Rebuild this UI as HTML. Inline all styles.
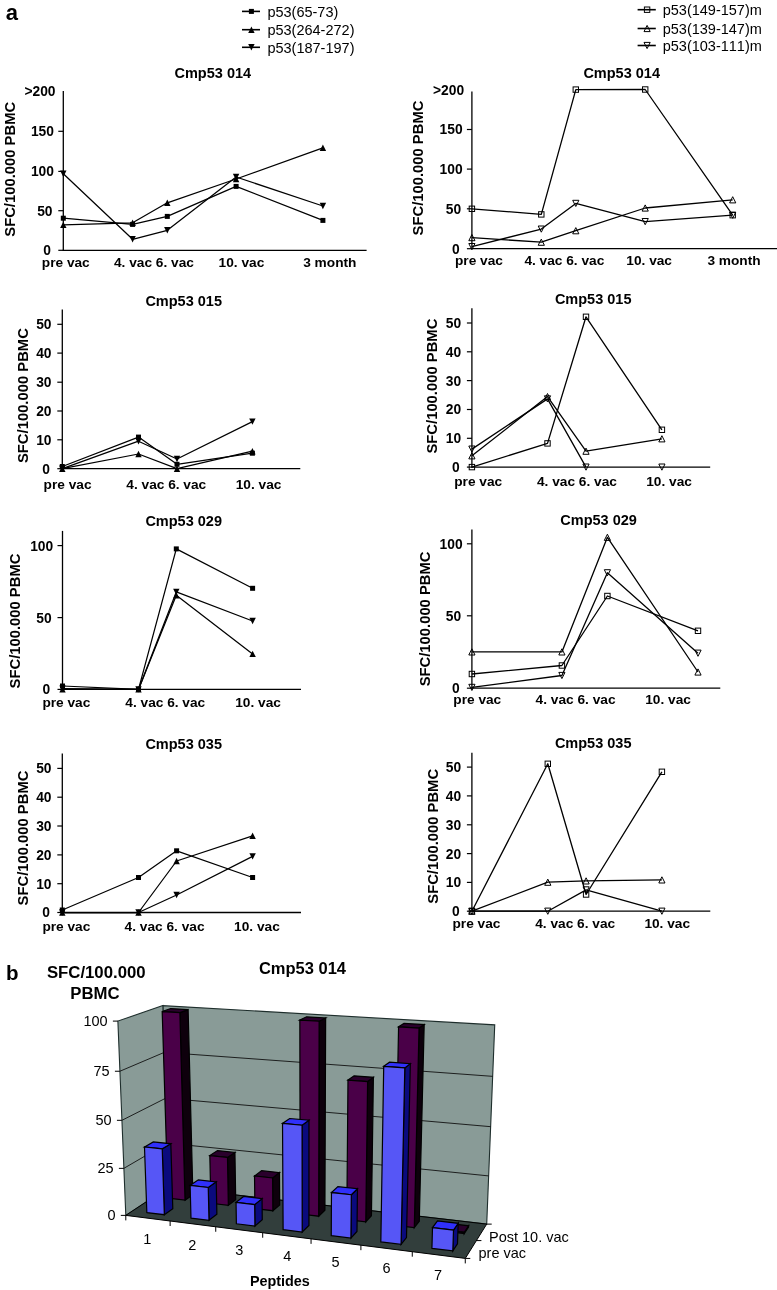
<!DOCTYPE html>
<html><head><meta charset="utf-8"><style>
html,body{margin:0;padding:0;background:#fff;}
svg{display:block;font-family:"Liberation Sans",sans-serif;font-kerning:none;will-change:transform;}
text{font-kerning:none;}
</style></head><body>
<svg width="777" height="1290" viewBox="0 0 777 1290">
<rect width="777" height="1290" fill="#fff"/>
<text x="5.70" y="20.30" font-size="22" font-weight="bold" text-anchor="start" fill="#000">a</text>
<line x1="242.00" y1="11.40" x2="260.00" y2="11.40" stroke="#000" stroke-width="1.6"/>
<rect x="248.90" y="8.90" width="5.0" height="5.0" fill="#000"/>
<text x="267.40" y="16.60" font-size="14.5" text-anchor="start" fill="#000">p53(65-73)</text>
<line x1="242.00" y1="29.70" x2="260.00" y2="29.70" stroke="#000" stroke-width="1.6"/>
<polygon points="251.40,26.50 254.60,32.90 248.20,32.90" fill="#000" stroke="none" stroke-width="0.8" stroke-linejoin="miter"/>
<text x="267.40" y="34.90" font-size="14.5" text-anchor="start" fill="#000">p53(264-272)</text>
<line x1="242.00" y1="47.30" x2="260.00" y2="47.30" stroke="#000" stroke-width="1.6"/>
<polygon points="251.40,50.50 254.60,44.10 248.20,44.10" fill="#000" stroke="none" stroke-width="0.8" stroke-linejoin="miter"/>
<text x="267.40" y="52.50" font-size="14.5" text-anchor="start" fill="#000">p53(187-197)</text>
<line x1="637.60" y1="9.70" x2="655.80" y2="9.70" stroke="#000" stroke-width="1.6"/>
<rect x="644.40" y="7.00" width="5.4" height="5.4" fill="none" stroke="#000" stroke-width="1"/>
<text x="662.70" y="14.90" font-size="14.5" text-anchor="start" fill="#000">p53(149-157)m</text>
<line x1="637.60" y1="28.50" x2="655.80" y2="28.50" stroke="#000" stroke-width="1.6"/>
<polygon points="647.10,25.40 650.20,31.60 644.00,31.60" fill="none" stroke="#000" stroke-width="1" stroke-linejoin="miter"/>
<text x="662.70" y="33.70" font-size="14.5" text-anchor="start" fill="#000">p53(139-147)m</text>
<line x1="637.60" y1="45.50" x2="655.80" y2="45.50" stroke="#000" stroke-width="1.6"/>
<polygon points="647.10,48.60 650.20,42.40 644.00,42.40" fill="none" stroke="#000" stroke-width="1" stroke-linejoin="miter"/>
<text x="662.70" y="50.70" font-size="14.5" text-anchor="start" fill="#000">p53(103-111)m</text>
<line x1="63.30" y1="91.00" x2="63.30" y2="250.90" stroke="#000" stroke-width="1.3"/>
<line x1="62.70" y1="250.30" x2="366.60" y2="250.30" stroke="#000" stroke-width="1.3"/>
<line x1="58.30" y1="250.30" x2="63.30" y2="250.30" stroke="#000" stroke-width="1.2"/>
<text x="51.06" y="255.20" font-size="13.8" font-weight="bold" text-anchor="end" fill="#000">0</text>
<line x1="58.30" y1="210.70" x2="63.30" y2="210.70" stroke="#000" stroke-width="1.2"/>
<text x="52.52" y="215.60" font-size="13.8" font-weight="bold" text-anchor="end" fill="#000">50</text>
<line x1="58.30" y1="171.40" x2="63.30" y2="171.40" stroke="#000" stroke-width="1.2"/>
<text x="53.97" y="176.30" font-size="13.8" font-weight="bold" text-anchor="end" fill="#000">100</text>
<line x1="58.30" y1="131.30" x2="63.30" y2="131.30" stroke="#000" stroke-width="1.2"/>
<text x="53.97" y="136.20" font-size="13.8" font-weight="bold" text-anchor="end" fill="#000">150</text>
<text x="55.50" y="96.40" font-size="13.8" font-weight="bold" text-anchor="end" fill="#000">&gt;200</text>
<text x="14.60" y="169.30" font-size="14.8" font-weight="bold" text-anchor="middle" transform="rotate(-90 14.6 169.3)" fill="#000">SFC/100.000 PBMC</text>
<text x="174.50" y="77.60" font-size="14.5" font-weight="bold" text-anchor="start" fill="#000">Cmp53 014</text>
<text x="41.80" y="266.90" font-size="13.7" font-weight="bold" text-anchor="start" fill="#000">pre vac</text>
<text x="114.00" y="266.90" font-size="13.7" font-weight="bold" text-anchor="start" fill="#000">4. vac 6. vac</text>
<text x="218.60" y="266.90" font-size="13.7" font-weight="bold" text-anchor="start" fill="#000">10. vac</text>
<text x="303.20" y="266.90" font-size="13.7" font-weight="bold" text-anchor="start" fill="#000">3 month</text>
<polyline points="63.30,218.20 132.60,224.40 167.30,216.40 236.10,186.40 322.90,220.40" fill="none" stroke="#000" stroke-width="1.25" stroke-linejoin="round"/>
<polyline points="63.30,224.90 132.60,222.80 167.30,202.80 236.10,179.00 322.90,147.80" fill="none" stroke="#000" stroke-width="1.25" stroke-linejoin="round"/>
<polyline points="63.30,173.70 132.60,239.30 167.30,230.30 236.10,177.00 322.90,206.00" fill="none" stroke="#000" stroke-width="1.25" stroke-linejoin="round"/>
<rect x="60.80" y="215.70" width="5.0" height="5.0" fill="#000"/>
<rect x="130.10" y="221.90" width="5.0" height="5.0" fill="#000"/>
<rect x="164.80" y="213.90" width="5.0" height="5.0" fill="#000"/>
<rect x="233.60" y="183.90" width="5.0" height="5.0" fill="#000"/>
<rect x="320.40" y="217.90" width="5.0" height="5.0" fill="#000"/>
<polygon points="63.30,221.70 66.50,228.10 60.10,228.10" fill="#000" stroke="none" stroke-width="0.8" stroke-linejoin="miter"/>
<polygon points="132.60,219.60 135.80,226.00 129.40,226.00" fill="#000" stroke="none" stroke-width="0.8" stroke-linejoin="miter"/>
<polygon points="167.30,199.60 170.50,206.00 164.10,206.00" fill="#000" stroke="none" stroke-width="0.8" stroke-linejoin="miter"/>
<polygon points="236.10,175.80 239.30,182.20 232.90,182.20" fill="#000" stroke="none" stroke-width="0.8" stroke-linejoin="miter"/>
<polygon points="322.90,144.60 326.10,151.00 319.70,151.00" fill="#000" stroke="none" stroke-width="0.8" stroke-linejoin="miter"/>
<polygon points="63.30,176.90 66.50,170.50 60.10,170.50" fill="#000" stroke="none" stroke-width="0.8" stroke-linejoin="miter"/>
<polygon points="132.60,242.50 135.80,236.10 129.40,236.10" fill="#000" stroke="none" stroke-width="0.8" stroke-linejoin="miter"/>
<polygon points="167.30,233.50 170.50,227.10 164.10,227.10" fill="#000" stroke="none" stroke-width="0.8" stroke-linejoin="miter"/>
<polygon points="236.10,180.20 239.30,173.80 232.90,173.80" fill="#000" stroke="none" stroke-width="0.8" stroke-linejoin="miter"/>
<polygon points="322.90,209.20 326.10,202.80 319.70,202.80" fill="#000" stroke="none" stroke-width="0.8" stroke-linejoin="miter"/>
<line x1="471.90" y1="91.40" x2="471.90" y2="249.30" stroke="#000" stroke-width="1.3"/>
<line x1="471.30" y1="248.70" x2="777.00" y2="248.70" stroke="#000" stroke-width="1.3"/>
<line x1="466.90" y1="248.70" x2="471.90" y2="248.70" stroke="#000" stroke-width="1.2"/>
<text x="459.66" y="253.60" font-size="13.8" font-weight="bold" text-anchor="end" fill="#000">0</text>
<line x1="466.90" y1="208.80" x2="471.90" y2="208.80" stroke="#000" stroke-width="1.2"/>
<text x="461.12" y="213.70" font-size="13.8" font-weight="bold" text-anchor="end" fill="#000">50</text>
<line x1="466.90" y1="169.10" x2="471.90" y2="169.10" stroke="#000" stroke-width="1.2"/>
<text x="462.57" y="174.00" font-size="13.8" font-weight="bold" text-anchor="end" fill="#000">100</text>
<line x1="466.90" y1="129.50" x2="471.90" y2="129.50" stroke="#000" stroke-width="1.2"/>
<text x="462.57" y="134.40" font-size="13.8" font-weight="bold" text-anchor="end" fill="#000">150</text>
<text x="464.10" y="95.00" font-size="13.8" font-weight="bold" text-anchor="end" fill="#000">&gt;200</text>
<text x="423.00" y="168.00" font-size="14.8" font-weight="bold" text-anchor="middle" transform="rotate(-90 423 168)" fill="#000">SFC/100.000 PBMC</text>
<text x="583.40" y="77.60" font-size="14.5" font-weight="bold" text-anchor="start" fill="#000">Cmp53 014</text>
<text x="455.00" y="264.50" font-size="13.7" font-weight="bold" text-anchor="start" fill="#000">pre vac</text>
<text x="524.40" y="264.50" font-size="13.7" font-weight="bold" text-anchor="start" fill="#000">4. vac 6. vac</text>
<text x="626.30" y="264.50" font-size="13.7" font-weight="bold" text-anchor="start" fill="#000">10. vac</text>
<text x="707.40" y="264.50" font-size="13.7" font-weight="bold" text-anchor="start" fill="#000">3 month</text>
<polyline points="471.90,208.80 541.30,214.40 575.80,89.60 645.20,89.50 732.70,215.20" fill="none" stroke="#000" stroke-width="1.3" stroke-linejoin="round"/>
<polyline points="471.90,237.60 541.30,242.20 575.80,230.70 645.20,208.00 732.70,199.80" fill="none" stroke="#000" stroke-width="1.3" stroke-linejoin="round"/>
<polyline points="471.90,246.60 541.30,229.10 575.80,203.40 645.20,221.60 732.70,215.20" fill="none" stroke="#000" stroke-width="1.3" stroke-linejoin="round"/>
<rect x="469.20" y="206.10" width="5.4" height="5.4" fill="none" stroke="#000" stroke-width="1"/>
<rect x="538.60" y="211.70" width="5.4" height="5.4" fill="none" stroke="#000" stroke-width="1"/>
<rect x="573.10" y="86.90" width="5.4" height="5.4" fill="none" stroke="#000" stroke-width="1"/>
<rect x="642.50" y="86.80" width="5.4" height="5.4" fill="none" stroke="#000" stroke-width="1"/>
<rect x="730.00" y="212.50" width="5.4" height="5.4" fill="none" stroke="#000" stroke-width="1"/>
<polygon points="471.90,234.50 475.00,240.70 468.80,240.70" fill="none" stroke="#000" stroke-width="1" stroke-linejoin="miter"/>
<polygon points="541.30,239.10 544.40,245.30 538.20,245.30" fill="none" stroke="#000" stroke-width="1" stroke-linejoin="miter"/>
<polygon points="575.80,227.60 578.90,233.80 572.70,233.80" fill="none" stroke="#000" stroke-width="1" stroke-linejoin="miter"/>
<polygon points="645.20,204.90 648.30,211.10 642.10,211.10" fill="none" stroke="#000" stroke-width="1" stroke-linejoin="miter"/>
<polygon points="732.70,196.70 735.80,202.90 729.60,202.90" fill="none" stroke="#000" stroke-width="1" stroke-linejoin="miter"/>
<polygon points="471.90,249.70 475.00,243.50 468.80,243.50" fill="none" stroke="#000" stroke-width="1" stroke-linejoin="miter"/>
<polygon points="541.30,232.20 544.40,226.00 538.20,226.00" fill="none" stroke="#000" stroke-width="1" stroke-linejoin="miter"/>
<polygon points="575.80,206.50 578.90,200.30 572.70,200.30" fill="none" stroke="#000" stroke-width="1" stroke-linejoin="miter"/>
<polygon points="645.20,224.70 648.30,218.50 642.10,218.50" fill="none" stroke="#000" stroke-width="1" stroke-linejoin="miter"/>
<polygon points="732.70,218.30 735.80,212.10 729.60,212.10" fill="none" stroke="#000" stroke-width="1" stroke-linejoin="miter"/>
<line x1="62.30" y1="309.60" x2="62.30" y2="469.30" stroke="#000" stroke-width="1.3"/>
<line x1="61.70" y1="468.70" x2="300.30" y2="468.70" stroke="#000" stroke-width="1.3"/>
<line x1="57.30" y1="468.70" x2="62.30" y2="468.70" stroke="#000" stroke-width="1.2"/>
<text x="50.06" y="473.60" font-size="13.8" font-weight="bold" text-anchor="end" fill="#000">0</text>
<line x1="57.30" y1="439.80" x2="62.30" y2="439.80" stroke="#000" stroke-width="1.2"/>
<text x="51.52" y="444.70" font-size="13.8" font-weight="bold" text-anchor="end" fill="#000">10</text>
<line x1="57.30" y1="411.00" x2="62.30" y2="411.00" stroke="#000" stroke-width="1.2"/>
<text x="51.52" y="415.90" font-size="13.8" font-weight="bold" text-anchor="end" fill="#000">20</text>
<line x1="57.30" y1="382.20" x2="62.30" y2="382.20" stroke="#000" stroke-width="1.2"/>
<text x="51.52" y="387.10" font-size="13.8" font-weight="bold" text-anchor="end" fill="#000">30</text>
<line x1="57.30" y1="353.10" x2="62.30" y2="353.10" stroke="#000" stroke-width="1.2"/>
<text x="51.52" y="358.00" font-size="13.8" font-weight="bold" text-anchor="end" fill="#000">40</text>
<line x1="57.30" y1="324.30" x2="62.30" y2="324.30" stroke="#000" stroke-width="1.2"/>
<text x="51.52" y="329.20" font-size="13.8" font-weight="bold" text-anchor="end" fill="#000">50</text>
<text x="28.00" y="395.60" font-size="14.8" font-weight="bold" text-anchor="middle" transform="rotate(-90 28 395.6)" fill="#000">SFC/100.000 PBMC</text>
<text x="145.40" y="305.80" font-size="14.5" font-weight="bold" text-anchor="start" fill="#000">Cmp53 015</text>
<text x="43.60" y="489.30" font-size="13.7" font-weight="bold" text-anchor="start" fill="#000">pre vac</text>
<text x="126.30" y="489.30" font-size="13.7" font-weight="bold" text-anchor="start" fill="#000">4. vac 6. vac</text>
<text x="235.70" y="489.30" font-size="13.7" font-weight="bold" text-anchor="start" fill="#000">10. vac</text>
<polyline points="62.30,466.50 138.50,437.10 177.00,464.30 252.40,453.20" fill="none" stroke="#000" stroke-width="1.25" stroke-linejoin="round"/>
<polyline points="62.30,468.70 138.50,454.00 177.00,468.70 252.40,451.20" fill="none" stroke="#000" stroke-width="1.25" stroke-linejoin="round"/>
<polyline points="62.30,468.70 138.50,441.20 177.00,459.00 252.40,421.60" fill="none" stroke="#000" stroke-width="1.25" stroke-linejoin="round"/>
<rect x="59.80" y="464.00" width="5.0" height="5.0" fill="#000"/>
<rect x="136.00" y="434.60" width="5.0" height="5.0" fill="#000"/>
<rect x="174.50" y="461.80" width="5.0" height="5.0" fill="#000"/>
<rect x="249.90" y="450.70" width="5.0" height="5.0" fill="#000"/>
<polygon points="62.30,465.50 65.50,471.90 59.10,471.90" fill="#000" stroke="none" stroke-width="0.8" stroke-linejoin="miter"/>
<polygon points="138.50,450.80 141.70,457.20 135.30,457.20" fill="#000" stroke="none" stroke-width="0.8" stroke-linejoin="miter"/>
<polygon points="177.00,465.50 180.20,471.90 173.80,471.90" fill="#000" stroke="none" stroke-width="0.8" stroke-linejoin="miter"/>
<polygon points="252.40,448.00 255.60,454.40 249.20,454.40" fill="#000" stroke="none" stroke-width="0.8" stroke-linejoin="miter"/>
<polygon points="62.30,471.90 65.50,465.50 59.10,465.50" fill="#000" stroke="none" stroke-width="0.8" stroke-linejoin="miter"/>
<polygon points="138.50,444.40 141.70,438.00 135.30,438.00" fill="#000" stroke="none" stroke-width="0.8" stroke-linejoin="miter"/>
<polygon points="177.00,462.20 180.20,455.80 173.80,455.80" fill="#000" stroke="none" stroke-width="0.8" stroke-linejoin="miter"/>
<polygon points="252.40,424.80 255.60,418.40 249.20,418.40" fill="#000" stroke="none" stroke-width="0.8" stroke-linejoin="miter"/>
<line x1="471.90" y1="308.30" x2="471.90" y2="467.70" stroke="#000" stroke-width="1.3"/>
<line x1="471.30" y1="467.10" x2="710.20" y2="467.10" stroke="#000" stroke-width="1.3"/>
<line x1="466.90" y1="467.10" x2="471.90" y2="467.10" stroke="#000" stroke-width="1.2"/>
<text x="459.66" y="472.00" font-size="13.8" font-weight="bold" text-anchor="end" fill="#000">0</text>
<line x1="466.90" y1="438.30" x2="471.90" y2="438.30" stroke="#000" stroke-width="1.2"/>
<text x="461.12" y="443.20" font-size="13.8" font-weight="bold" text-anchor="end" fill="#000">10</text>
<line x1="466.90" y1="409.50" x2="471.90" y2="409.50" stroke="#000" stroke-width="1.2"/>
<text x="461.12" y="414.40" font-size="13.8" font-weight="bold" text-anchor="end" fill="#000">20</text>
<line x1="466.90" y1="380.60" x2="471.90" y2="380.60" stroke="#000" stroke-width="1.2"/>
<text x="461.12" y="385.50" font-size="13.8" font-weight="bold" text-anchor="end" fill="#000">30</text>
<line x1="466.90" y1="351.80" x2="471.90" y2="351.80" stroke="#000" stroke-width="1.2"/>
<text x="461.12" y="356.70" font-size="13.8" font-weight="bold" text-anchor="end" fill="#000">40</text>
<line x1="466.90" y1="323.00" x2="471.90" y2="323.00" stroke="#000" stroke-width="1.2"/>
<text x="461.12" y="327.90" font-size="13.8" font-weight="bold" text-anchor="end" fill="#000">50</text>
<text x="437.30" y="386.10" font-size="14.8" font-weight="bold" text-anchor="middle" transform="rotate(-90 437.3 386.1)" fill="#000">SFC/100.000 PBMC</text>
<text x="554.90" y="304.00" font-size="14.5" font-weight="bold" text-anchor="start" fill="#000">Cmp53 015</text>
<text x="454.20" y="485.50" font-size="13.7" font-weight="bold" text-anchor="start" fill="#000">pre vac</text>
<text x="537.00" y="485.50" font-size="13.7" font-weight="bold" text-anchor="start" fill="#000">4. vac 6. vac</text>
<text x="646.20" y="485.50" font-size="13.7" font-weight="bold" text-anchor="start" fill="#000">10. vac</text>
<polyline points="471.90,467.10 547.50,443.40 586.00,316.80 661.90,429.80" fill="none" stroke="#000" stroke-width="1.3" stroke-linejoin="round"/>
<polyline points="471.90,455.80 547.50,396.60 586.00,451.20 661.90,438.80" fill="none" stroke="#000" stroke-width="1.3" stroke-linejoin="round"/>
<polyline points="471.90,449.10 547.50,398.90 586.00,467.10" fill="none" stroke="#000" stroke-width="1.3" stroke-linejoin="round"/>
<polyline points="661.90,467.10" fill="none" stroke="#000" stroke-width="1.3" stroke-linejoin="round"/>
<rect x="469.20" y="464.40" width="5.4" height="5.4" fill="none" stroke="#000" stroke-width="1"/>
<rect x="544.80" y="440.70" width="5.4" height="5.4" fill="none" stroke="#000" stroke-width="1"/>
<rect x="583.30" y="314.10" width="5.4" height="5.4" fill="none" stroke="#000" stroke-width="1"/>
<rect x="659.20" y="427.10" width="5.4" height="5.4" fill="none" stroke="#000" stroke-width="1"/>
<polygon points="471.90,452.70 475.00,458.90 468.80,458.90" fill="none" stroke="#000" stroke-width="1" stroke-linejoin="miter"/>
<polygon points="547.50,393.50 550.60,399.70 544.40,399.70" fill="none" stroke="#000" stroke-width="1" stroke-linejoin="miter"/>
<polygon points="586.00,448.10 589.10,454.30 582.90,454.30" fill="none" stroke="#000" stroke-width="1" stroke-linejoin="miter"/>
<polygon points="661.90,435.70 665.00,441.90 658.80,441.90" fill="none" stroke="#000" stroke-width="1" stroke-linejoin="miter"/>
<polygon points="471.90,452.20 475.00,446.00 468.80,446.00" fill="none" stroke="#000" stroke-width="1" stroke-linejoin="miter"/>
<polygon points="547.50,402.00 550.60,395.80 544.40,395.80" fill="none" stroke="#000" stroke-width="1" stroke-linejoin="miter"/>
<polygon points="586.00,470.20 589.10,464.00 582.90,464.00" fill="none" stroke="#000" stroke-width="1" stroke-linejoin="miter"/>
<polygon points="661.90,470.20 665.00,464.00 658.80,464.00" fill="none" stroke="#000" stroke-width="1" stroke-linejoin="miter"/>
<line x1="62.50" y1="530.90" x2="62.50" y2="690.00" stroke="#000" stroke-width="1.3"/>
<line x1="61.90" y1="689.40" x2="301.00" y2="689.40" stroke="#000" stroke-width="1.3"/>
<line x1="57.50" y1="689.40" x2="62.50" y2="689.40" stroke="#000" stroke-width="1.2"/>
<text x="50.26" y="694.30" font-size="13.8" font-weight="bold" text-anchor="end" fill="#000">0</text>
<line x1="57.50" y1="617.60" x2="62.50" y2="617.60" stroke="#000" stroke-width="1.2"/>
<text x="51.72" y="622.50" font-size="13.8" font-weight="bold" text-anchor="end" fill="#000">50</text>
<line x1="57.50" y1="545.60" x2="62.50" y2="545.60" stroke="#000" stroke-width="1.2"/>
<text x="53.17" y="550.50" font-size="13.8" font-weight="bold" text-anchor="end" fill="#000">100</text>
<text x="20.40" y="621.00" font-size="14.8" font-weight="bold" text-anchor="middle" transform="rotate(-90 20.4 621)" fill="#000">SFC/100.000 PBMC</text>
<text x="145.40" y="526.20" font-size="14.5" font-weight="bold" text-anchor="start" fill="#000">Cmp53 029</text>
<text x="42.40" y="707.20" font-size="13.7" font-weight="bold" text-anchor="start" fill="#000">pre vac</text>
<text x="125.30" y="707.20" font-size="13.7" font-weight="bold" text-anchor="start" fill="#000">4. vac 6. vac</text>
<text x="235.20" y="707.20" font-size="13.7" font-weight="bold" text-anchor="start" fill="#000">10. vac</text>
<polyline points="62.50,686.00 138.50,689.40 176.30,548.90 252.60,588.30" fill="none" stroke="#000" stroke-width="1.25" stroke-linejoin="round"/>
<polyline points="62.50,689.40 138.50,689.40 176.30,595.20 252.60,653.90" fill="none" stroke="#000" stroke-width="1.25" stroke-linejoin="round"/>
<polyline points="62.50,688.60 138.50,689.40 176.30,591.90 252.60,621.00" fill="none" stroke="#000" stroke-width="1.25" stroke-linejoin="round"/>
<rect x="60.00" y="683.50" width="5.0" height="5.0" fill="#000"/>
<rect x="136.00" y="686.90" width="5.0" height="5.0" fill="#000"/>
<rect x="173.80" y="546.40" width="5.0" height="5.0" fill="#000"/>
<rect x="250.10" y="585.80" width="5.0" height="5.0" fill="#000"/>
<polygon points="62.50,686.20 65.70,692.60 59.30,692.60" fill="#000" stroke="none" stroke-width="0.8" stroke-linejoin="miter"/>
<polygon points="138.50,686.20 141.70,692.60 135.30,692.60" fill="#000" stroke="none" stroke-width="0.8" stroke-linejoin="miter"/>
<polygon points="176.30,592.00 179.50,598.40 173.10,598.40" fill="#000" stroke="none" stroke-width="0.8" stroke-linejoin="miter"/>
<polygon points="252.60,650.70 255.80,657.10 249.40,657.10" fill="#000" stroke="none" stroke-width="0.8" stroke-linejoin="miter"/>
<polygon points="62.50,691.80 65.70,685.40 59.30,685.40" fill="#000" stroke="none" stroke-width="0.8" stroke-linejoin="miter"/>
<polygon points="138.50,692.60 141.70,686.20 135.30,686.20" fill="#000" stroke="none" stroke-width="0.8" stroke-linejoin="miter"/>
<polygon points="176.30,595.10 179.50,588.70 173.10,588.70" fill="#000" stroke="none" stroke-width="0.8" stroke-linejoin="miter"/>
<polygon points="252.60,624.20 255.80,617.80 249.40,617.80" fill="#000" stroke="none" stroke-width="0.8" stroke-linejoin="miter"/>
<line x1="471.90" y1="529.60" x2="471.90" y2="688.80" stroke="#000" stroke-width="1.3"/>
<line x1="471.30" y1="688.20" x2="720.30" y2="688.20" stroke="#000" stroke-width="1.3"/>
<line x1="466.90" y1="688.20" x2="471.90" y2="688.20" stroke="#000" stroke-width="1.2"/>
<text x="459.66" y="693.10" font-size="13.8" font-weight="bold" text-anchor="end" fill="#000">0</text>
<line x1="466.90" y1="615.80" x2="471.90" y2="615.80" stroke="#000" stroke-width="1.2"/>
<text x="461.12" y="620.70" font-size="13.8" font-weight="bold" text-anchor="end" fill="#000">50</text>
<line x1="466.90" y1="543.80" x2="471.90" y2="543.80" stroke="#000" stroke-width="1.2"/>
<text x="462.57" y="548.70" font-size="13.8" font-weight="bold" text-anchor="end" fill="#000">100</text>
<text x="430.40" y="618.90" font-size="14.8" font-weight="bold" text-anchor="middle" transform="rotate(-90 430.4 618.9)" fill="#000">SFC/100.000 PBMC</text>
<text x="560.30" y="525.00" font-size="14.5" font-weight="bold" text-anchor="start" fill="#000">Cmp53 029</text>
<text x="453.30" y="703.50" font-size="13.7" font-weight="bold" text-anchor="start" fill="#000">pre vac</text>
<text x="535.60" y="703.50" font-size="13.7" font-weight="bold" text-anchor="start" fill="#000">4. vac 6. vac</text>
<text x="645.20" y="703.50" font-size="13.7" font-weight="bold" text-anchor="start" fill="#000">10. vac</text>
<polyline points="471.90,674.00 561.90,665.50 607.40,596.00 698.00,630.80" fill="none" stroke="#000" stroke-width="1.3" stroke-linejoin="round"/>
<polyline points="471.90,651.90 561.90,651.90 607.40,537.30 698.00,672.00" fill="none" stroke="#000" stroke-width="1.3" stroke-linejoin="round"/>
<polyline points="471.90,687.40 561.90,675.50 607.40,572.80 698.00,653.20" fill="none" stroke="#000" stroke-width="1.3" stroke-linejoin="round"/>
<rect x="469.20" y="671.30" width="5.4" height="5.4" fill="none" stroke="#000" stroke-width="1"/>
<rect x="559.20" y="662.80" width="5.4" height="5.4" fill="none" stroke="#000" stroke-width="1"/>
<rect x="604.70" y="593.30" width="5.4" height="5.4" fill="none" stroke="#000" stroke-width="1"/>
<rect x="695.30" y="628.10" width="5.4" height="5.4" fill="none" stroke="#000" stroke-width="1"/>
<polygon points="471.90,648.80 475.00,655.00 468.80,655.00" fill="none" stroke="#000" stroke-width="1" stroke-linejoin="miter"/>
<polygon points="561.90,648.80 565.00,655.00 558.80,655.00" fill="none" stroke="#000" stroke-width="1" stroke-linejoin="miter"/>
<polygon points="607.40,534.20 610.50,540.40 604.30,540.40" fill="none" stroke="#000" stroke-width="1" stroke-linejoin="miter"/>
<polygon points="698.00,668.90 701.10,675.10 694.90,675.10" fill="none" stroke="#000" stroke-width="1" stroke-linejoin="miter"/>
<polygon points="471.90,690.50 475.00,684.30 468.80,684.30" fill="none" stroke="#000" stroke-width="1" stroke-linejoin="miter"/>
<polygon points="561.90,678.60 565.00,672.40 558.80,672.40" fill="none" stroke="#000" stroke-width="1" stroke-linejoin="miter"/>
<polygon points="607.40,575.90 610.50,569.70 604.30,569.70" fill="none" stroke="#000" stroke-width="1" stroke-linejoin="miter"/>
<polygon points="698.00,656.30 701.10,650.10 694.90,650.10" fill="none" stroke="#000" stroke-width="1" stroke-linejoin="miter"/>
<line x1="62.30" y1="753.50" x2="62.30" y2="913.10" stroke="#000" stroke-width="1.3"/>
<line x1="61.70" y1="912.50" x2="301.00" y2="912.50" stroke="#000" stroke-width="1.3"/>
<line x1="57.30" y1="912.50" x2="62.30" y2="912.50" stroke="#000" stroke-width="1.2"/>
<text x="50.06" y="917.40" font-size="13.8" font-weight="bold" text-anchor="end" fill="#000">0</text>
<line x1="57.30" y1="883.70" x2="62.30" y2="883.70" stroke="#000" stroke-width="1.2"/>
<text x="51.52" y="888.60" font-size="13.8" font-weight="bold" text-anchor="end" fill="#000">10</text>
<line x1="57.30" y1="854.90" x2="62.30" y2="854.90" stroke="#000" stroke-width="1.2"/>
<text x="51.52" y="859.80" font-size="13.8" font-weight="bold" text-anchor="end" fill="#000">20</text>
<line x1="57.30" y1="826.00" x2="62.30" y2="826.00" stroke="#000" stroke-width="1.2"/>
<text x="51.52" y="830.90" font-size="13.8" font-weight="bold" text-anchor="end" fill="#000">30</text>
<line x1="57.30" y1="797.20" x2="62.30" y2="797.20" stroke="#000" stroke-width="1.2"/>
<text x="51.52" y="802.10" font-size="13.8" font-weight="bold" text-anchor="end" fill="#000">40</text>
<line x1="57.30" y1="768.40" x2="62.30" y2="768.40" stroke="#000" stroke-width="1.2"/>
<text x="51.52" y="773.30" font-size="13.8" font-weight="bold" text-anchor="end" fill="#000">50</text>
<text x="28.00" y="838.00" font-size="14.8" font-weight="bold" text-anchor="middle" transform="rotate(-90 28 838)" fill="#000">SFC/100.000 PBMC</text>
<text x="145.40" y="749.30" font-size="14.5" font-weight="bold" text-anchor="start" fill="#000">Cmp53 035</text>
<text x="42.40" y="930.70" font-size="13.7" font-weight="bold" text-anchor="start" fill="#000">pre vac</text>
<text x="124.60" y="930.70" font-size="13.7" font-weight="bold" text-anchor="start" fill="#000">4. vac 6. vac</text>
<text x="234.10" y="930.70" font-size="13.7" font-weight="bold" text-anchor="start" fill="#000">10. vac</text>
<polyline points="62.30,910.00 138.50,877.50 176.60,850.80 252.60,877.50" fill="none" stroke="#000" stroke-width="1.25" stroke-linejoin="round"/>
<polyline points="62.30,912.50 138.50,912.50 176.60,861.00 252.60,835.80" fill="none" stroke="#000" stroke-width="1.25" stroke-linejoin="round"/>
<polyline points="62.30,912.50 138.50,912.50 176.60,895.00 252.60,856.40" fill="none" stroke="#000" stroke-width="1.25" stroke-linejoin="round"/>
<rect x="59.80" y="907.50" width="5.0" height="5.0" fill="#000"/>
<rect x="136.00" y="875.00" width="5.0" height="5.0" fill="#000"/>
<rect x="174.10" y="848.30" width="5.0" height="5.0" fill="#000"/>
<rect x="250.10" y="875.00" width="5.0" height="5.0" fill="#000"/>
<polygon points="62.30,909.30 65.50,915.70 59.10,915.70" fill="#000" stroke="none" stroke-width="0.8" stroke-linejoin="miter"/>
<polygon points="138.50,909.30 141.70,915.70 135.30,915.70" fill="#000" stroke="none" stroke-width="0.8" stroke-linejoin="miter"/>
<polygon points="176.60,857.80 179.80,864.20 173.40,864.20" fill="#000" stroke="none" stroke-width="0.8" stroke-linejoin="miter"/>
<polygon points="252.60,832.60 255.80,839.00 249.40,839.00" fill="#000" stroke="none" stroke-width="0.8" stroke-linejoin="miter"/>
<polygon points="62.30,915.70 65.50,909.30 59.10,909.30" fill="#000" stroke="none" stroke-width="0.8" stroke-linejoin="miter"/>
<polygon points="138.50,915.70 141.70,909.30 135.30,909.30" fill="#000" stroke="none" stroke-width="0.8" stroke-linejoin="miter"/>
<polygon points="176.60,898.20 179.80,891.80 173.40,891.80" fill="#000" stroke="none" stroke-width="0.8" stroke-linejoin="miter"/>
<polygon points="252.60,859.60 255.80,853.20 249.40,853.20" fill="#000" stroke="none" stroke-width="0.8" stroke-linejoin="miter"/>
<line x1="471.90" y1="752.70" x2="471.90" y2="911.80" stroke="#000" stroke-width="1.3"/>
<line x1="471.30" y1="911.20" x2="710.30" y2="911.20" stroke="#000" stroke-width="1.3"/>
<line x1="466.90" y1="911.20" x2="471.90" y2="911.20" stroke="#000" stroke-width="1.2"/>
<text x="459.66" y="916.10" font-size="13.8" font-weight="bold" text-anchor="end" fill="#000">0</text>
<line x1="466.90" y1="882.40" x2="471.90" y2="882.40" stroke="#000" stroke-width="1.2"/>
<text x="461.12" y="887.30" font-size="13.8" font-weight="bold" text-anchor="end" fill="#000">10</text>
<line x1="466.90" y1="853.60" x2="471.90" y2="853.60" stroke="#000" stroke-width="1.2"/>
<text x="461.12" y="858.50" font-size="13.8" font-weight="bold" text-anchor="end" fill="#000">20</text>
<line x1="466.90" y1="824.80" x2="471.90" y2="824.80" stroke="#000" stroke-width="1.2"/>
<text x="461.12" y="829.70" font-size="13.8" font-weight="bold" text-anchor="end" fill="#000">30</text>
<line x1="466.90" y1="795.90" x2="471.90" y2="795.90" stroke="#000" stroke-width="1.2"/>
<text x="461.12" y="800.80" font-size="13.8" font-weight="bold" text-anchor="end" fill="#000">40</text>
<line x1="466.90" y1="767.10" x2="471.90" y2="767.10" stroke="#000" stroke-width="1.2"/>
<text x="461.12" y="772.00" font-size="13.8" font-weight="bold" text-anchor="end" fill="#000">50</text>
<text x="438.00" y="836.30" font-size="14.8" font-weight="bold" text-anchor="middle" transform="rotate(-90 438 836.3)" fill="#000">SFC/100.000 PBMC</text>
<text x="554.90" y="747.80" font-size="14.5" font-weight="bold" text-anchor="start" fill="#000">Cmp53 035</text>
<text x="452.50" y="928.00" font-size="13.7" font-weight="bold" text-anchor="start" fill="#000">pre vac</text>
<text x="535.20" y="928.00" font-size="13.7" font-weight="bold" text-anchor="start" fill="#000">4. vac 6. vac</text>
<text x="644.40" y="928.00" font-size="13.7" font-weight="bold" text-anchor="start" fill="#000">10. vac</text>
<polyline points="471.90,911.20 547.80,763.80 586.10,894.50 661.90,771.80" fill="none" stroke="#000" stroke-width="1.3" stroke-linejoin="round"/>
<polyline points="471.90,911.20 547.80,882.20 586.10,880.90 661.90,879.90" fill="none" stroke="#000" stroke-width="1.3" stroke-linejoin="round"/>
<polyline points="471.90,911.20 547.80,911.20 586.10,889.90 661.90,911.20" fill="none" stroke="#000" stroke-width="1.3" stroke-linejoin="round"/>
<rect x="469.20" y="908.50" width="5.4" height="5.4" fill="none" stroke="#000" stroke-width="1"/>
<rect x="545.10" y="761.10" width="5.4" height="5.4" fill="none" stroke="#000" stroke-width="1"/>
<rect x="583.40" y="891.80" width="5.4" height="5.4" fill="none" stroke="#000" stroke-width="1"/>
<rect x="659.20" y="769.10" width="5.4" height="5.4" fill="none" stroke="#000" stroke-width="1"/>
<polygon points="471.90,908.10 475.00,914.30 468.80,914.30" fill="none" stroke="#000" stroke-width="1" stroke-linejoin="miter"/>
<polygon points="547.80,879.10 550.90,885.30 544.70,885.30" fill="none" stroke="#000" stroke-width="1" stroke-linejoin="miter"/>
<polygon points="586.10,877.80 589.20,884.00 583.00,884.00" fill="none" stroke="#000" stroke-width="1" stroke-linejoin="miter"/>
<polygon points="661.90,876.80 665.00,883.00 658.80,883.00" fill="none" stroke="#000" stroke-width="1" stroke-linejoin="miter"/>
<polygon points="471.90,914.30 475.00,908.10 468.80,908.10" fill="none" stroke="#000" stroke-width="1" stroke-linejoin="miter"/>
<polygon points="547.80,914.30 550.90,908.10 544.70,908.10" fill="none" stroke="#000" stroke-width="1" stroke-linejoin="miter"/>
<polygon points="586.10,893.00 589.20,886.80 583.00,886.80" fill="none" stroke="#000" stroke-width="1" stroke-linejoin="miter"/>
<polygon points="661.90,914.30 665.00,908.10 658.80,908.10" fill="none" stroke="#000" stroke-width="1" stroke-linejoin="miter"/>
<polygon points="168.49,1187.19 486.71,1224.11 494.74,1024.89 162.85,1005.59" fill="#899b97" stroke="#1e2e2c" stroke-width="1.1" stroke-linejoin="miter"/>
<polygon points="125.81,1215.39 168.49,1187.19 162.85,1005.59 117.88,1021.10" fill="#899b97" stroke="#1e2e2c" stroke-width="1.1" stroke-linejoin="miter"/>
<polygon points="125.81,1215.39 465.27,1258.41 486.71,1224.11 168.49,1187.19" fill="#323e3c" stroke="#000" stroke-width="1.0" stroke-linejoin="miter"/>
<polyline points="123.89,1168.35 167.12,1143.13 488.65,1175.92" fill="none" stroke="#111" stroke-width="0.9"/>
<polyline points="121.93,1120.32 165.73,1098.19 490.64,1126.68" fill="none" stroke="#111" stroke-width="0.9"/>
<polyline points="119.92,1071.24 164.31,1052.36 492.66,1076.35" fill="none" stroke="#111" stroke-width="0.9"/>
<line x1="120.81" y1="1215.39" x2="125.81" y2="1215.39" stroke="#000" stroke-width="1"/>
<text x="115.51" y="1220.39" font-size="14.5" text-anchor="end" fill="#000">0</text>
<line x1="118.89" y1="1168.35" x2="123.89" y2="1168.35" stroke="#000" stroke-width="1"/>
<text x="113.59" y="1173.35" font-size="14.5" text-anchor="end" fill="#000">25</text>
<line x1="116.93" y1="1120.32" x2="121.93" y2="1120.32" stroke="#000" stroke-width="1"/>
<text x="111.63" y="1125.32" font-size="14.5" text-anchor="end" fill="#000">50</text>
<line x1="114.92" y1="1071.24" x2="119.92" y2="1071.24" stroke="#000" stroke-width="1"/>
<text x="109.62" y="1076.24" font-size="14.5" text-anchor="end" fill="#000">75</text>
<line x1="112.88" y1="1021.10" x2="117.88" y2="1021.10" stroke="#000" stroke-width="1"/>
<text x="107.58" y="1026.10" font-size="14.5" text-anchor="end" fill="#000">100</text>
<line x1="125.81" y1="1215.39" x2="125.81" y2="1220.39" stroke="#000" stroke-width="1"/>
<line x1="170.13" y1="1221.00" x2="170.13" y2="1226.00" stroke="#000" stroke-width="1"/>
<line x1="215.74" y1="1226.78" x2="215.74" y2="1231.78" stroke="#000" stroke-width="1"/>
<line x1="262.70" y1="1232.74" x2="262.70" y2="1237.74" stroke="#000" stroke-width="1"/>
<line x1="311.06" y1="1238.87" x2="311.06" y2="1243.87" stroke="#000" stroke-width="1"/>
<line x1="360.90" y1="1245.18" x2="360.90" y2="1250.18" stroke="#000" stroke-width="1"/>
<line x1="412.28" y1="1251.69" x2="412.28" y2="1256.69" stroke="#000" stroke-width="1"/>
<line x1="465.27" y1="1258.41" x2="465.27" y2="1263.41" stroke="#000" stroke-width="1"/>
<line x1="465.27" y1="1258.41" x2="470.27" y2="1258.41" stroke="#000" stroke-width="1"/>
<line x1="476.41" y1="1240.59" x2="481.41" y2="1240.59" stroke="#000" stroke-width="1"/>
<line x1="486.71" y1="1224.11" x2="491.71" y2="1224.11" stroke="#000" stroke-width="1"/>
<polygon points="185.02,1200.17 192.89,1194.63 188.12,1009.58 179.85,1012.62" fill="#0e000c" stroke="#000" stroke-width="1.2" stroke-linejoin="miter"/>
<polygon points="162.18,1011.55 179.85,1012.62 188.12,1009.58 170.65,1008.54" fill="#2a002c" stroke="#000" stroke-width="1.2" stroke-linejoin="miter"/>
<polygon points="168.02,1198.13 185.02,1200.17 179.85,1012.62 162.18,1011.55" fill="#4a0048" stroke="#000" stroke-width="1.2" stroke-linejoin="miter"/>
<polygon points="228.34,1205.37 235.70,1199.68 234.93,1152.40 227.48,1157.47" fill="#0e000c" stroke="#000" stroke-width="1.2" stroke-linejoin="miter"/>
<polygon points="209.83,1155.61 227.48,1157.47 234.93,1152.40 217.49,1150.60" fill="#2a002c" stroke="#000" stroke-width="1.2" stroke-linejoin="miter"/>
<polygon points="210.87,1203.27 228.34,1205.37 227.48,1157.47 209.83,1155.61" fill="#4a0048" stroke="#000" stroke-width="1.2" stroke-linejoin="miter"/>
<polygon points="272.87,1210.71 279.69,1204.87 279.49,1172.57 272.61,1177.98" fill="#0e000c" stroke="#000" stroke-width="1.2" stroke-linejoin="miter"/>
<polygon points="254.52,1175.99 272.61,1177.98 279.49,1172.57 261.62,1170.64" fill="#2a002c" stroke="#000" stroke-width="1.2" stroke-linejoin="miter"/>
<polygon points="254.91,1208.55 272.87,1210.71 272.61,1177.98 254.52,1175.99" fill="#4a0048" stroke="#000" stroke-width="1.2" stroke-linejoin="miter"/>
<polygon points="318.67,1216.21 324.92,1210.20 325.64,1017.92 319.12,1021.23" fill="#0e000c" stroke="#000" stroke-width="1.2" stroke-linejoin="miter"/>
<polygon points="299.84,1020.06 319.12,1021.23 325.64,1017.92 306.61,1016.79" fill="#2a002c" stroke="#000" stroke-width="1.2" stroke-linejoin="miter"/>
<polygon points="300.19,1213.99 318.67,1216.21 319.12,1021.23 299.84,1020.06" fill="#4a0048" stroke="#000" stroke-width="1.2" stroke-linejoin="miter"/>
<polygon points="365.78,1221.86 371.43,1215.69 373.39,1077.32 367.60,1081.55" fill="#0e000c" stroke="#000" stroke-width="1.2" stroke-linejoin="miter"/>
<polygon points="347.98,1080.03 367.60,1081.55 373.39,1077.32 354.04,1075.84" fill="#2a002c" stroke="#000" stroke-width="1.2" stroke-linejoin="miter"/>
<polygon points="346.78,1219.58 365.78,1221.86 367.60,1081.55 347.98,1080.03" fill="#4a0048" stroke="#000" stroke-width="1.2" stroke-linejoin="miter"/>
<polygon points="414.28,1227.68 419.28,1221.33 424.19,1024.59 419.04,1028.10" fill="#0e000c" stroke="#000" stroke-width="1.2" stroke-linejoin="miter"/>
<polygon points="398.57,1026.86 419.04,1028.10 424.19,1024.59 404.01,1023.39" fill="#2a002c" stroke="#000" stroke-width="1.2" stroke-linejoin="miter"/>
<polygon points="394.71,1225.34 414.28,1227.68 419.04,1028.10 398.57,1026.86" fill="#4a0048" stroke="#000" stroke-width="1.2" stroke-linejoin="miter"/>
<polygon points="464.21,1233.68 468.53,1227.14 468.58,1225.80 464.26,1232.32" fill="#0e000c" stroke="#000" stroke-width="1.2" stroke-linejoin="miter"/>
<polygon points="444.10,1229.90 464.26,1232.32 468.58,1225.80 448.70,1223.46" fill="#2a002c" stroke="#000" stroke-width="1.2" stroke-linejoin="miter"/>
<polygon points="444.06,1231.26 464.21,1233.68 464.26,1232.32 444.10,1229.90" fill="#4a0048" stroke="#000" stroke-width="1.2" stroke-linejoin="miter"/>
<polygon points="164.35,1214.72 172.80,1208.77 170.83,1143.78 162.23,1148.85" fill="#0a0a7e" stroke="#000" stroke-width="1.2" stroke-linejoin="miter"/>
<polygon points="144.48,1147.00 162.23,1148.85 170.83,1143.78 153.29,1141.99" fill="#3030fa" stroke="#000" stroke-width="1.2" stroke-linejoin="miter"/>
<polygon points="146.85,1212.53 164.35,1214.72 162.23,1148.85 144.48,1147.00" fill="#5656f6" stroke="#000" stroke-width="1.2" stroke-linejoin="miter"/>
<polygon points="208.99,1220.32 216.90,1214.21 216.23,1181.81 208.25,1187.49" fill="#0a0a7e" stroke="#000" stroke-width="1.2" stroke-linejoin="miter"/>
<polygon points="190.12,1185.40 208.25,1187.49 216.23,1181.81 198.32,1179.79" fill="#3030fa" stroke="#000" stroke-width="1.2" stroke-linejoin="miter"/>
<polygon points="190.98,1218.06 208.99,1220.32 208.25,1187.49 190.12,1185.40" fill="#5656f6" stroke="#000" stroke-width="1.2" stroke-linejoin="miter"/>
<polygon points="254.92,1226.09 262.26,1219.80 262.04,1198.61 254.66,1204.60" fill="#0a0a7e" stroke="#000" stroke-width="1.2" stroke-linejoin="miter"/>
<polygon points="236.04,1202.39 254.66,1204.60 262.04,1198.61 243.65,1196.46" fill="#3030fa" stroke="#000" stroke-width="1.2" stroke-linejoin="miter"/>
<polygon points="236.38,1223.76 254.92,1226.09 254.66,1204.60 236.04,1202.39" fill="#5656f6" stroke="#000" stroke-width="1.2" stroke-linejoin="miter"/>
<polygon points="302.20,1232.02 308.94,1225.55 308.95,1120.26 302.06,1125.24" fill="#0a0a7e" stroke="#000" stroke-width="1.2" stroke-linejoin="miter"/>
<polygon points="282.52,1123.43 302.06,1125.24 308.95,1120.26 289.68,1118.51" fill="#3030fa" stroke="#000" stroke-width="1.2" stroke-linejoin="miter"/>
<polygon points="283.12,1229.63 302.20,1232.02 302.06,1125.24 282.52,1123.43" fill="#5656f6" stroke="#000" stroke-width="1.2" stroke-linejoin="miter"/>
<polygon points="350.90,1238.14 356.99,1231.48 357.46,1188.72 351.32,1194.77" fill="#0a0a7e" stroke="#000" stroke-width="1.2" stroke-linejoin="miter"/>
<polygon points="331.47,1192.54 351.32,1194.77 357.46,1188.72 337.88,1186.56" fill="#3030fa" stroke="#000" stroke-width="1.2" stroke-linejoin="miter"/>
<polygon points="331.25,1235.67 350.90,1238.14 351.32,1194.77 331.47,1192.54" fill="#5656f6" stroke="#000" stroke-width="1.2" stroke-linejoin="miter"/>
<polygon points="401.08,1244.43 406.48,1237.58 410.34,1063.63 404.79,1067.90" fill="#0a0a7e" stroke="#000" stroke-width="1.2" stroke-linejoin="miter"/>
<polygon points="383.71,1066.37 404.79,1067.90 410.34,1063.63 389.56,1062.14" fill="#3030fa" stroke="#000" stroke-width="1.2" stroke-linejoin="miter"/>
<polygon points="380.83,1241.89 401.08,1244.43 404.79,1067.90 383.71,1066.37" fill="#5656f6" stroke="#000" stroke-width="1.2" stroke-linejoin="miter"/>
<polygon points="452.81,1250.93 457.48,1243.86 458.17,1223.30 453.50,1230.07" fill="#0a0a7e" stroke="#000" stroke-width="1.2" stroke-linejoin="miter"/>
<polygon points="432.51,1227.56 453.50,1230.07 458.17,1223.30 437.49,1220.88" fill="#3030fa" stroke="#000" stroke-width="1.2" stroke-linejoin="miter"/>
<polygon points="431.93,1248.30 452.81,1250.93 453.50,1230.07 432.51,1227.56" fill="#5656f6" stroke="#000" stroke-width="1.2" stroke-linejoin="miter"/>
<text x="147.30" y="1244.00" font-size="14.5" text-anchor="middle" fill="#000">1</text>
<text x="192.40" y="1249.60" font-size="14.5" text-anchor="middle" fill="#000">2</text>
<text x="239.30" y="1254.80" font-size="14.5" text-anchor="middle" fill="#000">3</text>
<text x="287.40" y="1261.20" font-size="14.5" text-anchor="middle" fill="#000">4</text>
<text x="335.60" y="1267.40" font-size="14.5" text-anchor="middle" fill="#000">5</text>
<text x="386.60" y="1273.10" font-size="14.5" text-anchor="middle" fill="#000">6</text>
<text x="438.00" y="1280.20" font-size="14.5" text-anchor="middle" fill="#000">7</text>
<text x="489.00" y="1241.50" font-size="14.5" text-anchor="start" fill="#000">Post 10. vac</text>
<text x="478.50" y="1258.00" font-size="14.5" text-anchor="start" fill="#000">pre vac</text>
<text x="249.90" y="1286.30" font-size="14.4" font-weight="bold" text-anchor="start" fill="#000">Peptides</text>
<text x="258.90" y="973.70" font-size="16.5" font-weight="bold" text-anchor="start" fill="#000">Cmp53 014</text>
<text x="46.90" y="978.00" font-size="16.75" font-weight="bold" text-anchor="start" fill="#000">SFC/100.000</text>
<text x="70.30" y="998.70" font-size="16.75" font-weight="bold" text-anchor="start" fill="#000">PBMC</text>
<text x="5.90" y="980.00" font-size="20.5" font-weight="bold" text-anchor="start" fill="#000">b</text>
</svg>
</body></html>
